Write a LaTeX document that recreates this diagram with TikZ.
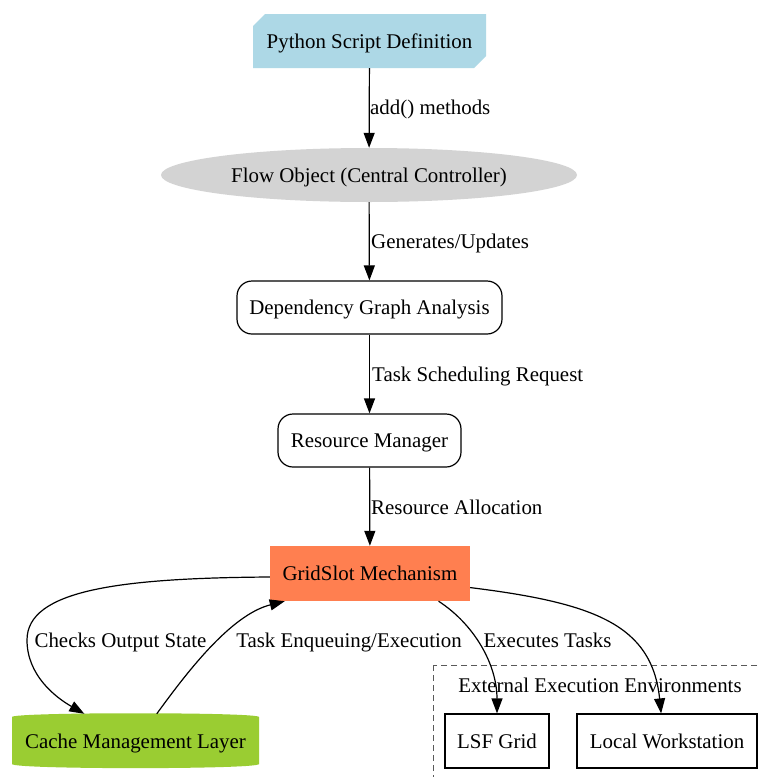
\documentclass[tikz,border=0pt]{standalone}
\usepackage{fontspec}
\setmainfont{Liberation Serif}
\usetikzlibrary{arrows.meta,shapes.geometric,shapes.misc}
\definecolor{scriptblue}{HTML}{ADD8E6}
\definecolor{flowgray}{HTML}{D3D3D3}
\definecolor{slotcoral}{HTML}{FF7F50}
\definecolor{cachegreen}{HTML}{9ACD32}
\begin{document}
\begin{tikzpicture}[x=1pt,y=-1pt,
  every node/.style={font=\fontsize{20.9}{25}\selectfont, inner sep=0pt, text=black,
    text height=15pt, text depth=1pt},
  box/.style={draw, line width=1.2pt, minimum height=53pt},
  roundbox/.style={box, rounded corners=15pt},
  edge/.style={-{Triangle[length=15pt,width=11pt]}, line width=1.2pt},
  elabel/.style={anchor=west},
]
\clip (0,0) rectangle (760,777);
\fill[white] (0,0) rectangle (760,777);

% main pipeline
\node[chamfered rectangle, chamfered rectangle corners={north west,south east},
      chamfered rectangle xsep=6pt, chamfered rectangle ysep=6pt,
      fill=scriptblue, minimum width=233pt, minimum height=54pt] (py) at (369.5,41) {Python Script Definition};
\node[ellipse, fill=flowgray, minimum width=416pt, minimum height=54pt] (flow) at (369,175) {Flow Object (Central Controller)};
\node[roundbox, minimum width=265pt] (dep) at (369.5,307.5) {Dependency Graph Analysis};
\node[roundbox, minimum width=183pt] (res) at (369.5,440.5) {Resource Manager};
\node[fill=slotcoral, minimum width=200pt, minimum height=55pt] (grid) at (370,573.5) {GridSlot Mechanism};

% cache layer (cylinder)
\fill[cachegreen] (12,717) .. controls (12,712) and (259,712) .. (259,717)
  -- (259,764) .. controls (259,769.5) and (12,769.5) .. (12,764) -- cycle;
\node[minimum width=247pt, minimum height=54pt] (cache) at (135.5,741) {Cache Management Layer};

% external environments
\draw[line width=1pt, gray!70!black, dash pattern=on 6pt off 4pt] (433,665) rectangle (790,800);
\node (envtitle) at (600,685) {External Execution Environments};
\node[box, minimum width=104pt, minimum height=54pt] (lsf) at (497,741) {LSF Grid};
\node[box, minimum width=180pt, minimum height=54pt] (local) at (667,741) {Local Workstation};

% connectors
\draw[edge] (py) -- (flow);
\node[elabel] (l1) at (370,107) {add() methods};
\draw[edge] (flow) -- (dep);
\node[elabel] (l2) at (371,241) {Generates/Updates};
\draw[edge] (dep) -- (res);
\node[elabel] (l3) at (372,374) {Task Scheduling Request};
\draw[edge] (res) -- (grid);
\node[elabel] (l4) at (371,507) {Resource Allocation};

\draw[edge] (grid.182) .. controls (120,578) and (27,590) .. (27,640)
  .. controls (27,675) and (55,697) .. (cache.152);
\node (l5) at (120.5,640) {Checks Output State};
\draw[edge] (cache.52) .. controls (185,675) and (230,615) .. (grid.198);
\node (l6) at (349,640) {Task Enqueuing/Execution};
\draw[edge] (grid.338) .. controls (475,625) and (497,665) .. (lsf.north);
\node (l7) at (547.5,640) {Executes Tasks};
\draw[edge] (grid.352) .. controls (595,603) and (652,625) .. (local.102);
\end{tikzpicture}
\end{document}
